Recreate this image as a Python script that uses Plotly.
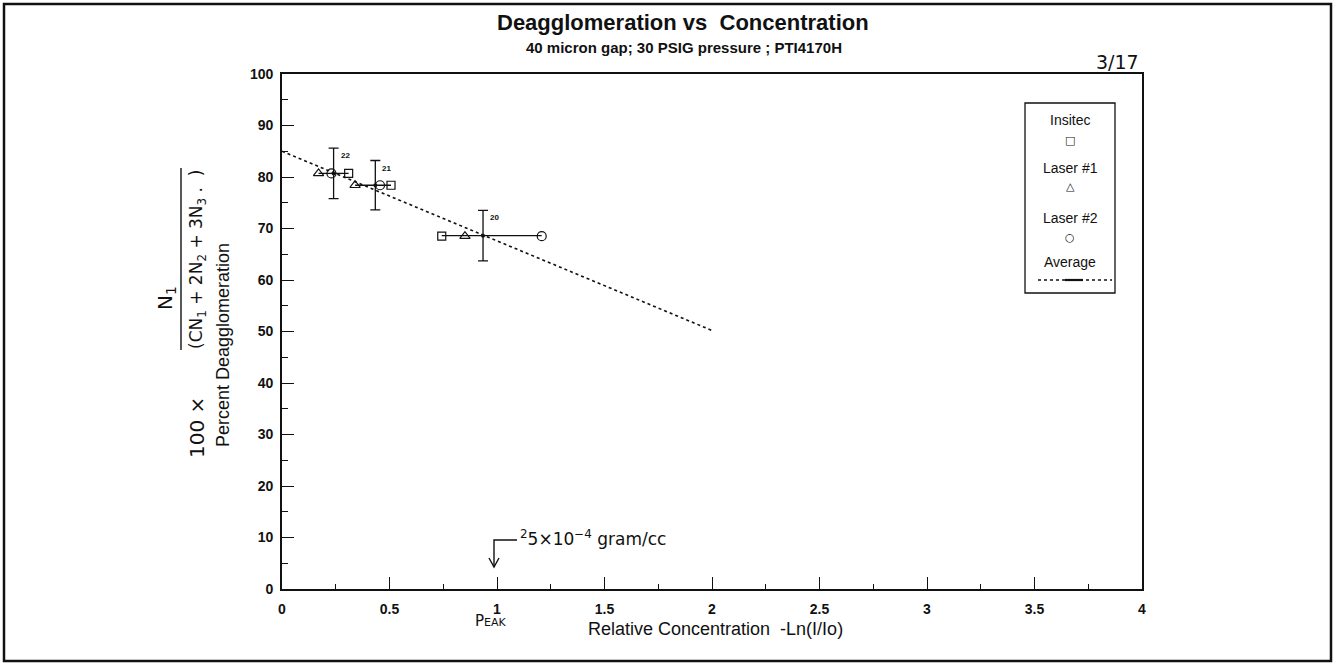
import plotly.graph_objects as go

# ---- measured values for runs 20-22 ----
run_labels = ["22", "21", "20"]

insitec_x = [0.31, 0.507, 0.743]
insitec_y = [80.7, 78.4, 68.5]

laser1_x = [0.17, 0.34, 0.851]
laser1_y = [80.7, 78.4, 68.5]

laser2_x = [0.23, 0.456, 1.208]
laser2_y = [80.7, 78.4, 68.5]

avg_x = [0.24, 0.434, 0.935]
avg_y = [80.7, 78.4, 68.6]
avg_err = [4.9, 4.8, 4.9]

# linear fit through the averages
fit_x = [0.0, 2.0]
fit_y = [85.0, 50.2]

x_tick_vals = [0, 0.5, 1, 1.5, 2, 2.5, 3, 3.5, 4]
x_tick_text = ["0", "0.5", "1", "1.5", "2", "2.5", "3", "3.5", "4"]
y_tick_vals = [0, 10, 20, 30, 40, 50, 60, 70, 80, 90, 100]

# ---- page geometry (pixels) ----
W_PAGE, H_PAGE = 1336, 667
L, R, T, B = 282, 1142, 74, 589


def px(x):
    return (x - L) / (R - L)


def py(y):
    return (B - y) / (B - T)


SANS = "Liberation Sans, Arial, Helvetica, sans-serif"
HAND = "DejaVu Sans, sans-serif"
BLACK = "#111111"


def note(x, y, text, size, family=SANS, bold=False, angle=0, xanchor="center"):
    """Text placed at a page pixel position, centred on that point."""
    return dict(x=px(x), y=py(y), xref="paper", yref="paper", text=text,
                showarrow=False, xanchor=xanchor, yanchor="middle", textangle=angle,
                font=dict(family=family, size=size, color=BLACK,
                          weight="bold" if bold else "normal"))


fig = go.Figure()

# horizontal line joining the three instruments of each run
span_x, span_y = [], []
for i in range(len(run_labels)):
    xs = [insitec_x[i], laser1_x[i], laser2_x[i]]
    span_x += [min(xs), max(xs), None]
    span_y += [avg_y[i], avg_y[i], None]
fig.add_trace(go.Scatter(x=span_x, y=span_y, mode="lines",
                         line=dict(color=BLACK, width=1.3),
                         hoverinfo="skip", showlegend=False))

# dotted fit
fig.add_trace(go.Scatter(x=fit_x, y=fit_y, mode="lines",
                         line=dict(color=BLACK, width=1.6, dash="dot"),
                         name="Average", showlegend=False))

# averages with error bars
fig.add_trace(go.Scatter(x=avg_x, y=avg_y, mode="markers",
                         marker=dict(symbol="circle", size=4, color=BLACK),
                         error_y=dict(type="data", array=avg_err, visible=True,
                                      color=BLACK, thickness=1.3, width=5),
                         showlegend=False))

marker_line = dict(color=BLACK, width=1.2)
fig.add_trace(go.Scatter(x=insitec_x, y=insitec_y, mode="markers", name="Insitec",
                         marker=dict(symbol="square-open", size=8, color=BLACK,
                                     line=marker_line), showlegend=False))
fig.add_trace(go.Scatter(x=laser1_x, y=laser1_y, mode="markers", name="Laser #1",
                         marker=dict(symbol="triangle-up-open", size=9, color=BLACK,
                                     line=marker_line), showlegend=False))
fig.add_trace(go.Scatter(x=laser2_x, y=laser2_y, mode="markers", name="Laser #2",
                         marker=dict(symbol="circle-open", size=9, color=BLACK,
                                     line=marker_line), showlegend=False))

annotations = []

# run numbers beside the error bars
for i, lab in enumerate(run_labels):
    annotations.append(dict(x=avg_x[i], y=avg_y[i] + avg_err[i], xref="x", yref="y",
                            text=lab, showarrow=False, xanchor="left", yanchor="top",
                            xshift=5, yshift=-1,
                            font=dict(family=SANS, size=8, color=BLACK, weight="bold")))

# titles
annotations.append(note(683, 23, "Deagglomeration vs  Concentration", 22, bold=True))
annotations.append(note(684, 47, "40 micron gap; 30 PSIG pressure ; PTI4170H", 15, bold=True))

# axis titles
annotations.append(note(715, 629, "Relative Concentration  -Ln(I/Io)", 18))
annotations.append(note(223, 345, "Percent Deagglomeration", 18, angle=-90))

# handwritten notes
annotations.append(note(491, 621, "P<span style='font-size:11px'>EAK</span>", 15, family=HAND))
annotations.append(note(518, 538, "<sup>2</sup>5×10<sup>−4</sup> gram/cc", 17,
                        family=HAND, xanchor="left"))
annotations.append(note(1117, 62, "3/17", 19, family=HAND))
annotations.append(note(197, 428, "100 ×", 20, family=HAND, angle=-90))
annotations.append(note(197, 260,
                        "(CN<sub>1</sub> + 2N<sub>2</sub> + 3N<sub>3</sub> .  )",
                        17, family=HAND, angle=-90))
annotations.append(note(166, 298, "N<sub>1</sub>", 20, family=HAND, angle=-90))

# legend text and symbols
legend_items = [("Insitec", 120, "□", 140), ("Laser #1", 168, "△", 187),
                ("Laser #2", 218, "○", 237), ("Average", 262, None, None)]
for label, ty, sym, sy in legend_items:
    annotations.append(note(1070, ty, label, 14))
    if sym:
        annotations.append(note(1070, sy, sym, 11, family="DejaVu Sans"))

shapes = [
    # page border
    dict(type="rect", xref="paper", yref="paper", x0=px(4), x1=px(1331),
         y0=py(661), y1=py(4), line=dict(color=BLACK, width=2.5)),
    # legend box
    dict(type="rect", xref="paper", yref="paper", x0=px(1025), x1=px(1115),
         y0=py(293), y1=py(103), line=dict(color=BLACK, width=1.3)),
    # legend line sample
    dict(type="line", xref="paper", yref="paper", x0=px(1038), x1=px(1112),
         y0=py(280), y1=py(280), line=dict(color=BLACK, width=1.3, dash="dot")),
    dict(type="line", xref="paper", yref="paper", x0=px(1065), x1=px(1083),
         y0=py(280), y1=py(280), line=dict(color=BLACK, width=2.2)),
    # hand-drawn arrow toward x = 1
    dict(type="path", xref="paper", yref="paper",
         path=f"M {px(517)} {py(540)} L {px(494)} {py(540)} L {px(494)} {py(567)}",
         line=dict(color=BLACK, width=1.4)),
    dict(type="path", xref="paper", yref="paper",
         path=f"M {px(489)} {py(558)} L {px(494)} {py(567)} L {px(499)} {py(558)}",
         line=dict(color=BLACK, width=1.4)),
    # fraction bar of the handwritten formula
    dict(type="line", xref="paper", yref="paper", x0=px(181), x1=px(181),
         y0=py(350), y1=py(168), line=dict(color=BLACK, width=1.4)),
]

axis_common = dict(showgrid=False, zeroline=False, showline=True, linecolor=BLACK,
                   linewidth=1.6, mirror=True, ticks="inside", tickcolor=BLACK,
                   tickwidth=1.3, ticklen=12,
                   tickfont=dict(family=SANS, size=14, color=BLACK, weight="bold"))

fig.update_layout(
    width=W_PAGE, height=H_PAGE, autosize=False,
    margin=dict(l=L, r=W_PAGE - R, t=T, b=H_PAGE - B, pad=0),
    paper_bgcolor="white", plot_bgcolor="white",
    showlegend=False,
    xaxis=dict(range=[0, 4], tickvals=x_tick_vals, ticktext=x_tick_text,
               ticklabelstandoff=6,
               minor=dict(dtick=0.25, tick0=0, ticks="inside", ticklen=5,
                          tickcolor=BLACK, tickwidth=1.2),
               **axis_common),
    yaxis=dict(range=[0, 100], tickvals=y_tick_vals, ticklabelstandoff=4,
               minor=dict(dtick=5, tick0=0, ticks="inside", ticklen=6,
                          tickcolor=BLACK, tickwidth=1.2),
               **axis_common),
    annotations=annotations,
    shapes=shapes,
)

fig.write_html("out.html")
